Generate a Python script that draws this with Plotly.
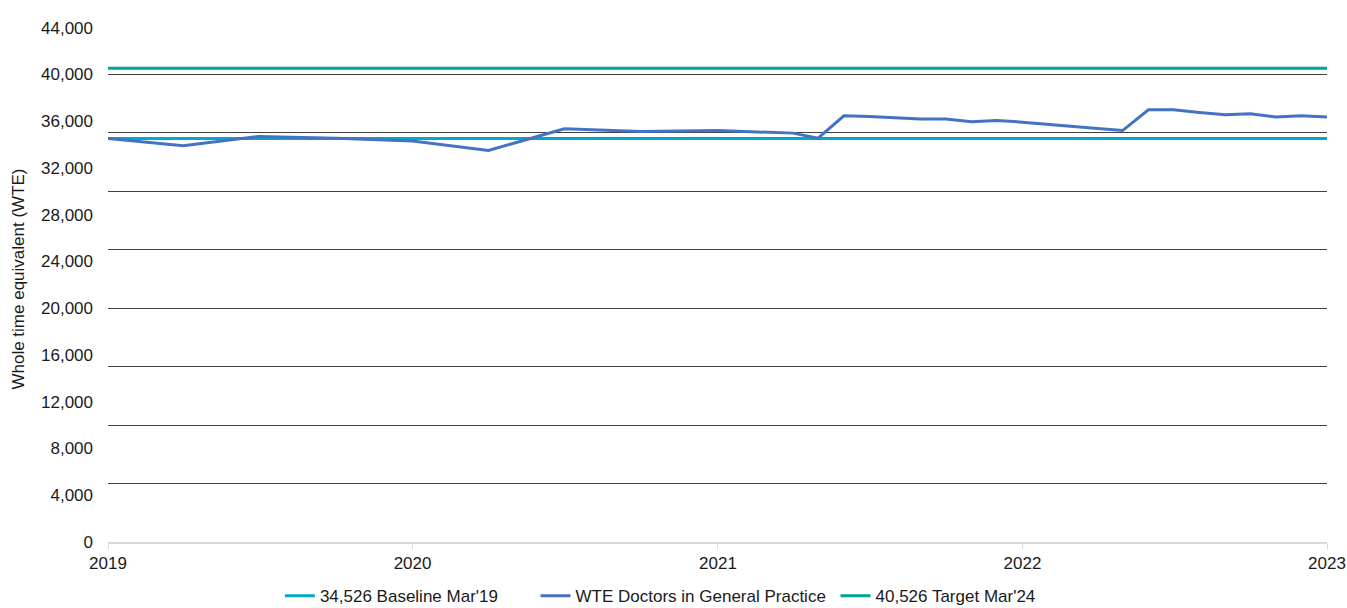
import plotly.graph_objects as go

# ---- data ----
DATES = ["2019-01-01", "2019-04-01", "2019-07-01", "2019-10-01", "2020-01-01",
         "2020-04-01", "2020-07-01", "2020-10-01", "2021-01-01", "2021-04-01",
         "2021-05-01", "2021-06-01", "2021-07-01", "2021-08-01", "2021-09-01",
         "2021-10-01", "2021-11-01", "2021-12-01", "2022-01-01", "2022-04-01",
         "2022-05-01", "2022-06-01", "2022-07-01", "2022-08-01", "2022-09-01",
         "2022-10-01", "2022-11-01", "2022-12-01", "2023-01-01"]
WTE_DOCTORS = [34526, 33890, 34700, 34540, 34300,
               33500, 35350, 35120, 35200, 34980,
               34550, 36460, 36400, 36270, 36180,
               36180, 35950, 36060, 35920, 35380,
               35200, 36980, 36980, 36750, 36550,
               36630, 36350, 36460, 36350]
BASELINE = 34526
TARGET = 40526
X_START = "2019-01-01"
X_END = "2023-01-01"
YEAR_TICKS = ["2019-01-01", "2020-01-01", "2021-01-01", "2022-01-01", "2023-01-01"]
YEAR_LABELS = ["2019", "2020", "2021", "2022", "2023"]
Y_TICKS = list(range(0, 44001, 4000))
GRID_VALUES = list(range(5000, 45001, 5000))
Y_MAX = 45000

NAMES = ["34,526 Baseline Mar'19", "WTE Doctors in General Practice", "40,526 Target Mar'24"]
COLORS = ["#00A9CE", "#4472C4", "#00A499"]

FONT = "Liberation Sans, Arial, sans-serif"
FS = 17
TXT = "#1a1a1a"

fig = go.Figure()
# invisible trace so the gridline axis (y2) is rendered
fig.add_trace(go.Scatter(x=[X_START, X_END], y=[0, Y_MAX], mode="lines",
                         line=dict(color="rgba(0,0,0,0)", width=0),
                         yaxis="y2", showlegend=False, hoverinfo="skip"))
fig.add_trace(go.Scatter(x=[X_START, X_END], y=[BASELINE, BASELINE], mode="lines",
                         name=NAMES[0], line=dict(color=COLORS[0], width=3),
                         legend="legend"))
fig.add_trace(go.Scatter(x=DATES, y=WTE_DOCTORS, mode="lines",
                         name=NAMES[1], line=dict(color=COLORS[1], width=3),
                         legend="legend2"))
fig.add_trace(go.Scatter(x=[X_START, X_END], y=[TARGET, TARGET], mode="lines",
                         name=NAMES[2], line=dict(color=COLORS[2], width=3),
                         legend="legend3"))

leg_common = dict(orientation="h", yanchor="top", y=-0.069, xanchor="left",
                  font=dict(family=FONT, size=FS, color=TXT),
                  bgcolor="rgba(0,0,0,0)")

fig.update_layout(
    width=1347, height=608,
    margin=dict(l=108, r=20, t=16, b=66, autoexpand=False),
    paper_bgcolor="white", plot_bgcolor="white",
    font=dict(family=FONT, size=FS, color=TXT),
    showlegend=True,
    legend=dict(x=0.1410, **leg_common),
    legend2=dict(x=0.3507, **leg_common),
    legend3=dict(x=0.5968, **leg_common),
    xaxis=dict(type="date", range=[X_START, X_END],
               tickvals=YEAR_TICKS, ticktext=YEAR_LABELS,
               showgrid=False, zeroline=False,
               showline=True, linecolor="#d9d9d9", linewidth=2,
               ticks="outside", ticklen=5, tickcolor="#d9d9d9", tickwidth=1,
               tickfont=dict(family=FONT, size=FS, color=TXT)),
    yaxis=dict(range=[0, Y_MAX], tickvals=Y_TICKS, tickformat=",d",
               showgrid=False, zeroline=False, showline=False,
               ticklabelstandoff=14,
               tickfont=dict(family=FONT, size=FS, color=TXT),
               title=dict(text="Whole time equivalent (WTE)", standoff=12,
                          font=dict(family=FONT, size=FS, color=TXT))),
    yaxis2=dict(range=[0, Y_MAX], overlaying="y", side="left",
                tickvals=GRID_VALUES, showticklabels=False,
                showgrid=True, gridcolor="#404040", gridwidth=1,
                zeroline=False, showline=False),
)

fig.write_html("out.html")
